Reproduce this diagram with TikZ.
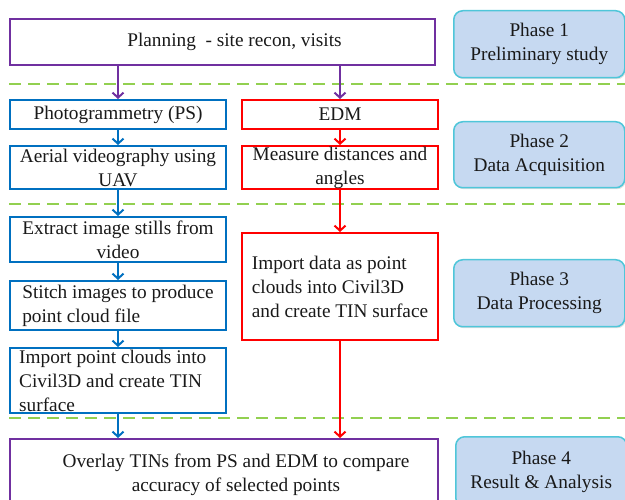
\documentclass[tikz,border=0pt]{standalone}
\usepackage{fontspec}
\setmainfont{Liberation Serif}
\usetikzlibrary{arrows.meta,shadows}

\definecolor{flowpurple}{HTML}{7030A0}
\definecolor{flowblue}{HTML}{0070C0}
\definecolor{flowred}{HTML}{FF0000}
\definecolor{sepgreen}{HTML}{92D050}
\definecolor{phasefill}{HTML}{C6D9F1}
\definecolor{phaseedge}{HTML}{4FC6D9}

\tikzset{
  txt/.style={font=\fontsize{19.3}{24}\selectfont, text=black!90},
  box/.style={txt, draw, line width=2pt, anchor=north west, inner sep=0pt, align=center},
  pbox/.style={box, draw=flowpurple},
  bbox/.style={box, draw=flowblue},
  rbox/.style={box, draw=flowred},
  phasebox/.style={txt, draw=phaseedge, fill=phasefill, line width=1.5pt,
    rounded corners=9pt, anchor=north west, align=center, inner sep=0pt,
    minimum width=171pt,
    drop shadow={opacity=0.25, shadow xshift=1.2pt, shadow yshift=-1.5pt}},
  sep/.style={draw=sepgreen, line width=2pt, dash pattern=on 12pt off 7pt},
  flow/.style={line width=2pt, -{Straight Barb[length=5pt, width=11pt, line width=2pt]}},
}

\begin{document}
\begin{tikzpicture}[x=1pt, y=-1pt]
\useasboundingbox (0,0) rectangle (625,500);

% phase separators
\draw[sep] (9,84) -- (625,84);
\draw[sep] (9,204) -- (625,204);
\draw[sep] (9,418) -- (625,418);

% planning
\node[pbox, minimum width=425pt, minimum height=46pt] (plan) at (9,18)
  {\hspace*{24pt}Planning\ \ - site recon, visits};

% photogrammetry column
\node[bbox, minimum width=216pt, minimum height=29pt] (ps) at (9,99)
  {Photogrammetry (PS)};
\node[bbox, minimum width=216pt, minimum height=43pt] (aerial) at (9,145)
  {Aerial videography using\\UAV};
\node[bbox, minimum width=216pt, minimum height=45pt] (extract) at (9,216)
  {Extract image stills from\\video};
\node[bbox, minimum width=216pt, minimum height=49pt, align=left] (stitch) at (9,280)
  {Stitch images to produce\\point cloud file};
\node[bbox, minimum width=216pt, minimum height=65pt] (import) at (9,347) {};
\node[txt, align=left, inner sep=0pt, anchor=west] (importtxt) at (19,381)
  {Import point clouds into\\Civil3D and create TIN\\surface};

% EDM column
\node[rbox, minimum width=196pt, minimum height=29pt] (edm) at (241,99) {EDM};
\node[rbox, minimum width=196pt, minimum height=43pt] (measure) at (241,145)
  {Measure distances and\\angles};
\node[rbox, minimum width=196pt, minimum height=107pt, align=left] (edmimport) at (241,232)
  {Import data as point\\clouds into Civil3D\\and create TIN surface};

% result
\node[pbox, minimum width=428pt, minimum height=71pt] (overlay) at (9,438)
  {\hspace*{24pt}Overlay TINs from PS and EDM to compare\\\hspace*{24pt}accuracy of selected points};

% phase labels
\node[phasebox, minimum height=67pt] (ph1) at (453,10) {Phase 1\\Preliminary study};
\node[phasebox, minimum height=66pt] (ph2) at (453,121) {Phase 2\\Data Acquisition};
\node[phasebox, minimum height=67pt] (ph3) at (453,259) {Phase 3\\Data Processing};
\node[phasebox, minimum height=70pt] (ph4) at (455,436) {Phase 4\\Result \& Analysis};

% connectors
\draw[flow, flowpurple] (plan.south -| ps.north) -- (ps.north);
\draw[flow, flowpurple] (plan.south -| edm.north) -- (edm.north);

\draw[flow, flowblue] (ps) -- (aerial);
\draw[flow, flowblue] (aerial) -- (extract);
\draw[flow, flowblue] (extract) -- (stitch);
\draw[flow, flowblue] (stitch) -- (import);
\draw[flow, flowblue] (import.south) -- (import.south |- overlay.north);

\draw[flow, flowred] (edm) -- (measure);
\draw[flow, flowred] (measure) -- (edmimport);
\draw[flow, flowred] (edmimport.south) -- (edmimport.south |- overlay.north);
\end{tikzpicture}
\end{document}
